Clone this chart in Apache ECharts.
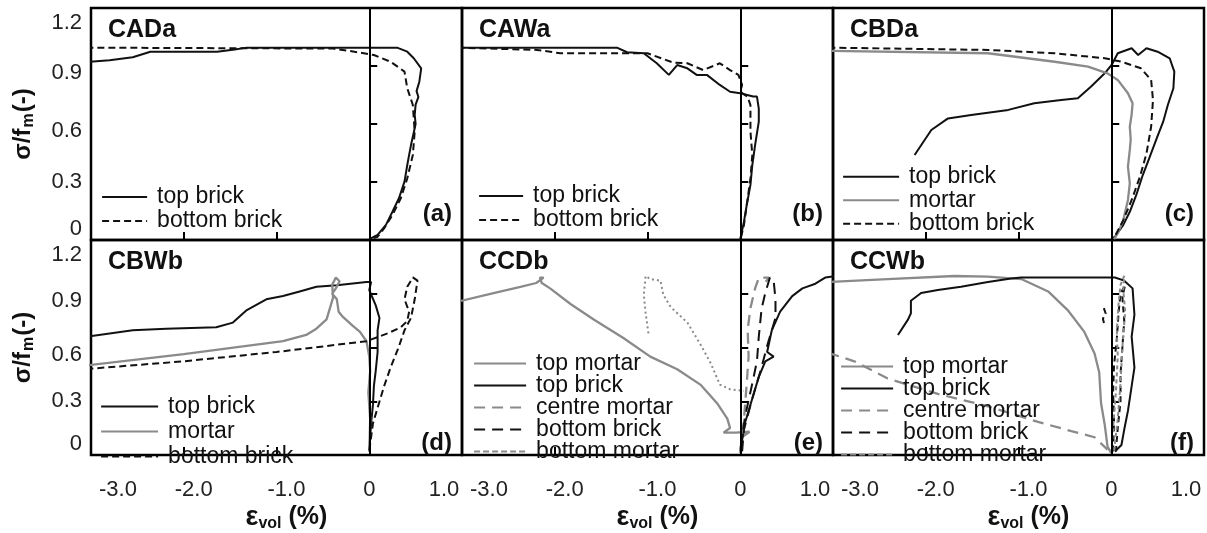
<!DOCTYPE html>
<html>
<head>
<meta charset="utf-8">
<script src="https://cdn.jsdelivr.net/npm/echarts@6/dist/echarts.min.js"></script>
<style>
  html, body { margin: 0; background: #fff; }
  #chart { width: 1207px; height: 533px; }
</style>
</head>
<body>
<div id="chart"></div>
<script>
// panel names and letters
const panelNames = ['CADa', 'CAWa', 'CBDa', 'CBWb', 'CCDb', 'CCWb']
const panelLetters = ['(a)', '(b)', '(c)', '(d)', '(e)', '(f)']

// tick labels
const xTicks = ['-3.0', '-2.0', '-1.0', '0', '1.0']
const yTicks = ['0', '0.3', '0.6', '0.9', '1.2']

// (a) CADa  [eps_vol %, sigma/fm]
const aTopBrick = [[-3.05,0.92],[-2.8,0.93],[-2.55,0.945],[-2.36,0.974],[-1.64,0.974],[-1.45,0.985],[-1.32,0.995],[0.30,0.995],[0.41,0.974],[0.48,0.94],[0.56,0.888],[0.54,0.819],[0.51,0.77],[0.53,0.74],[0.50,0.70],[0.49,0.647],[0.50,0.60],[0.49,0.578],[0.45,0.491],[0.43,0.44],[0.41,0.388],[0.38,0.302],[0.32,0.216],[0.25,0.146],[0.18,0.078],[0.09,0.026],[0.0,0.005]]
const aBottomBrick = [[-3.05,0.995],[-0.39,0.99],[-0.16,0.974],[0.05,0.957],[0.23,0.922],[0.38,0.871],[0.41,0.785],[0.47,0.698],[0.49,0.561],[0.47,0.44],[0.41,0.319],[0.34,0.216],[0.25,0.129],[0.16,0.06],[0.09,0.017],[0.02,0.005]]

// (b) CAWa
const bTopBrick = [[-3.05,0.995],[-1.33,0.995],[-1.22,0.971],[-1.04,0.966],[-0.90,0.914],[-0.77,0.854],[-0.68,0.905],[-0.57,0.888],[-0.47,0.854],[-0.36,0.854],[-0.22,0.802],[-0.11,0.767],[0,0.759],[0.14,0.742],[0.18,0.742],[0.20,0.68],[0.20,0.612],[0.16,0.491],[0.13,0.388],[0.11,0.285],[0.07,0.181],[0.04,0.095],[0.01,0.026],[0,0.005]]
const bBottomBrick = [[-3.05,0.995],[-2.19,0.983],[-1.94,0.966],[-1.0,0.966],[-0.72,0.917],[-0.57,0.914],[-0.40,0.879],[-0.22,0.914],[-0.11,0.879],[-0.02,0.854],[0.02,0.802],[0.0,0.767],[0.08,0.74],[0.11,0.698],[0.11,0.561],[0.13,0.44],[0.11,0.319],[0.07,0.181],[0.04,0.078],[0.01,0.017]]

// (c) CBDa
const cTopBrick = [[-2.12,0.44],[-1.94,0.569],[-1.76,0.629],[-1.51,0.647],[-1.11,0.673],[-0.83,0.707],[-0.54,0.724],[-0.36,0.733],[-0.22,0.793],[-0.07,0.862],[0.01,0.91],[0.07,0.966],[0.22,0.992],[0.29,0.957],[0.38,0.992],[0.50,0.974],[0.63,0.94],[0.68,0.871],[0.67,0.785],[0.61,0.698],[0.56,0.612],[0.49,0.526],[0.41,0.423],[0.34,0.336],[0.27,0.233],[0.20,0.146],[0.13,0.078],[0.04,0.017],[0,0.005]]
const cMortar = [[-3.05,0.978],[-1.33,0.966],[-0.61,0.922],[-0.25,0.897],[-0.04,0.862],[0.07,0.828],[0.18,0.759],[0.23,0.707],[0.22,0.65],[0.20,0.586],[0.21,0.52],[0.20,0.466],[0.18,0.379],[0.20,0.293],[0.18,0.207],[0.13,0.103],[0.07,0.034],[0.03,0.005]]
const cBottomBrick = [[-3.05,0.995],[-1.33,0.983],[-0.61,0.966],[-0.07,0.94],[0.11,0.922],[0.32,0.888],[0.43,0.828],[0.45,0.724],[0.43,0.586],[0.38,0.448],[0.31,0.328],[0.22,0.207],[0.13,0.103],[0.03,0.01]]

// (d) CBWb
const dTopBrick = [[-3.05,0.66],[-2.55,0.696],[-2.19,0.705],[-1.65,0.713],[-1.47,0.739],[-1.32,0.809],[-1.11,0.869],[-0.93,0.887],[-0.75,0.913],[-0.57,0.939],[-0.35,0.947],[-0.03,0.965],[0.02,0.965],[0,0.921],[0.07,0.835],[0.11,0.765],[0.09,0.696],[0.09,0.575],[0.07,0.471],[0.05,0.384],[0.04,0.281],[0.02,0.177],[0,0.021]]
const dMortar = [[-3.05,0.50],[-2.0,0.563],[-0.93,0.635],[-0.68,0.67],[-0.57,0.705],[-0.46,0.757],[-0.39,0.878],[-0.40,0.95],[-0.36,0.99],[-0.32,0.97],[-0.36,0.93],[-0.40,0.90],[-0.35,0.87],[-0.33,0.80],[-0.29,0.774],[-0.18,0.722],[-0.10,0.687],[-0.03,0.635],[0,0.549],[0.01,0.47],[-0.01,0.35],[0.01,0.2],[0,0.02]]
const dBottomBrick = [[-3.05,0.48],[-2.0,0.523],[-1.0,0.575],[-0.03,0.635],[0.20,0.679],[0.34,0.713],[0.41,0.748],[0.43,0.80],[0.38,0.869],[0.41,0.939],[0.47,0.991],[0.52,0.973],[0.49,0.869],[0.45,0.765],[0.38,0.696],[0.31,0.592],[0.23,0.488],[0.16,0.384],[0.09,0.263],[0.04,0.177],[0,0.021]]

// (e) CCDb
const eTopMortar = [[-3.05,0.855],[-2.66,0.904],[-2.37,0.939],[-2.2,0.96],[-2.12,0.99],[-2.16,0.99],[-2.14,0.96],[-2.05,0.93],[-1.83,0.843],[-1.58,0.756],[-1.26,0.653],[-0.97,0.549],[-0.68,0.479],[-0.43,0.393],[-0.25,0.289],[-0.14,0.203],[-0.11,0.151],[-0.18,0.125],[-0.05,0.125],[0.1,0.13],[0.02,0.1],[0,0.01]]
const eTopBrick = [[0,0.021],[0.05,0.177],[0.13,0.315],[0.20,0.436],[0.27,0.523],[0.36,0.549],[0.29,0.575],[0.34,0.696],[0.43,0.80],[0.56,0.887],[0.67,0.930],[0.81,0.956],[0.92,0.991],[1.02,0.999],[1.1,1.0]]
const eCentreMortar = [[0,0.02],[0.04,0.2],[0.07,0.4],[0.09,0.55],[0.08,0.7],[0.11,0.82],[0.16,0.93],[0.20,0.99],[0.31,0.99],[0.25,0.95]]
const eBottomBrick = [[0.02,0.02],[0.04,0.142],[0.13,0.315],[0.22,0.471],[0.29,0.609],[0.38,0.765],[0.38,0.869],[0.36,0.973],[0.32,0.991],[0.27,0.904],[0.23,0.817],[0.20,0.661],[0.18,0.523],[0.13,0.40],[0.05,0.21],[0,0.02]]
const eBottomMortar = [[-0.99,0.679],[-1.02,0.791],[-1.04,0.895],[-1.02,0.999],[-0.97,0.982],[-0.86,0.973],[-0.83,0.895],[-0.75,0.826],[-0.57,0.739],[-0.43,0.618],[-0.32,0.514],[-0.22,0.393],[-0.11,0.367],[0.04,0.358]]

// (f) CCWb
const fTopMortar = [[-3.05,0.965],[-2.41,0.982],[-1.69,0.999],[-1.33,0.996],[-0.97,0.982],[-0.68,0.913],[-0.47,0.809],[-0.29,0.687],[-0.18,0.566],[-0.13,0.462],[-0.11,0.289],[-0.07,0.168],[-0.04,0.047],[0,0.01]]
const fTopBrick = [[-2.30,0.670],[-2.19,0.757],[-2.16,0.791],[-2.16,0.861],[-2.05,0.904],[-1.87,0.921],[-1.62,0.939],[-1.33,0.965],[-1.08,0.985],[-0.97,0.991],[0.04,0.991],[0.14,0.973],[0.23,0.930],[0.25,0.783],[0.22,0.661],[0.25,0.488],[0.22,0.384],[0.18,0.246],[0.14,0.142],[0.11,0.056],[0.04,0.02]]
const fCentreMortar = [[-3.05,0.57],[-2.77,0.523],[-2.41,0.427],[-1.87,0.341],[-1.33,0.272],[-0.79,0.185],[-0.43,0.133],[-0.18,0.099],[-0.04,0.03]]
const fBottomBrick = [[0.02,0.02],[0.03,0.2],[0.02,0.35],[0.03,0.5],[0.06,0.65],[0.08,0.8],[0.1,0.9],[0.15,0.95],[0.12,0.88],[0.14,0.75],[0.12,0.6],[0.1,0.45],[0.1,0.3],[0.07,0.15],[0.05,0.02]]
const fBottomBrickBit = [[-0.08,0.82],[-0.06,0.79],[-0.09,0.76],[-0.07,0.72]]
const fBottomMortar = [[0,0.01],[0.02,0.15],[0.05,0.35],[0.07,0.55],[0.06,0.7],[0.08,0.85],[0.1,0.95],[0.14,1.0],[0.13,0.92],[0.15,0.8],[0.12,0.6],[0.1,0.4],[0.07,0.2],[0.03,0.02]]

const BLACK = '#111'
const GREY = '#8a8a8a'
const FONT = 'Liberation Sans, Arial, sans-serif'
const SHORT = [7, 4]
const LONG = [11, 7]

const cols = [91, 462, 833]
const rows = [{ top: 8, height: 232 }, { top: 240, height: 229 }]

const grids = []
for (let r = 0; r < 2; r++) {
  for (let c = 0; c < 3; c++) {
    grids.push({ left: cols[c], top: rows[r].top, width: 371, height: rows[r].height,
      show: true, borderColor: '#000', borderWidth: 2.5, backgroundColor: 'transparent' })
  }
}

const TICK_FS = 22
const xLabelRich = {
  l: { fontSize: TICK_FS, fontFamily: FONT, color: '#222', padding: [0, 0, 0, 54] },
  m: { fontSize: TICK_FS, fontFamily: FONT, color: '#222', padding: [0, 0, 0, 20] },
  z: { fontSize: TICK_FS, fontFamily: FONT, color: '#222' },
  r: { fontSize: TICK_FS, fontFamily: FONT, color: '#222', padding: [0, 36, 0, 0] }
}
const xStyleKey = ['l', 'm', 'm', 'z', 'r']
const yLabelRich = {
  t: { fontSize: TICK_FS, fontFamily: FONT, color: '#222', padding: [30, 0, 0, 0] },
  a: { fontSize: TICK_FS, fontFamily: FONT, color: '#222', padding: [14, 0, 0, 0] },
  n: { fontSize: TICK_FS, fontFamily: FONT, color: '#222' },
  b: { fontSize: TICK_FS, fontFamily: FONT, color: '#222', padding: [0, 0, 22, 0] }
}
const yStyleKey = ['b', 'n', 'a', 'a', 't']

const xAxes = grids.map((g, i) => {
  const bottomRow = i >= 3
  return {
    gridIndex: i, type: 'value', min: -3, max: 1, interval: 1,
    axisLine: { show: false },
    axisTick: { inside: true, length: 8, lineStyle: { color: '#000', width: 2 } },
    splitLine: { show: false },
    axisLabel: {
      show: bottomRow, margin: 24, showMinLabel: true, showMaxLabel: true,
      formatter: v => {
        const k = Math.round(v) + 3
        return '{' + xStyleKey[k] + '|' + xTicks[k] + '}'
      },
      rich: xLabelRich
    },
    name: bottomRow ? '{e|ε}{s|vol}{p| (%)}' : '',
    nameLocation: 'middle', nameGap: 48,
    nameTextStyle: {
      padding: [0, 0, 0, 20],
      rich: {
        e: { fontSize: 27, fontWeight: 'bold', fontFamily: FONT, color: '#111' },
        s: { fontSize: 16, fontWeight: 'bold', fontFamily: FONT, color: '#111', padding: [13, 0, 0, 0] },
        p: { fontSize: 25, fontWeight: 'bold', fontFamily: FONT, color: '#111' }
      }
    }
  }
})

const yAxes = grids.map((g, i) => {
  const leftCol = i % 3 === 0
  return {
    gridIndex: i, type: 'value', min: 0, max: 1.2, interval: 0.3,
    axisLine: { show: false },
    axisTick: { inside: true, length: 8, lineStyle: { color: '#000', width: 2 } },
    splitLine: { show: false },
    axisLabel: {
      show: leftCol, margin: 9, showMinLabel: true, showMaxLabel: true,
      formatter: v => {
        const k = Math.round(v / 0.3)
        return '{' + yStyleKey[k] + '|' + yTicks[k] + '}'
      },
      rich: yLabelRich
    },
    name: leftCol ? '{p|σ/f}{s|m}{p|(-)}' : '',
    nameLocation: 'middle', nameGap: 54,
    nameTextStyle: {
      rich: {
        p: { fontSize: 24, fontWeight: 'bold', fontFamily: FONT, color: '#111' },
        s: { fontSize: 16, fontWeight: 'bold', fontFamily: FONT, color: '#111', padding: [12, 1, 0, 1] }
      }
    }
  }
})

function ln(name, data, gi, color, dash, width) {
  return {
    type: 'line', name, data, xAxisIndex: gi, yAxisIndex: gi,
    symbol: 'none', color, silent: true, animation: false, clip: true,
    lineStyle: { color, width: width || 2, type: dash || 'solid' }
  }
}

const series = [
  ln('top brick', aTopBrick, 0, BLACK),
  ln('bottom brick', aBottomBrick, 0, BLACK, SHORT),
  ln('top brick', bTopBrick, 1, BLACK),
  ln('bottom brick', bBottomBrick, 1, BLACK, SHORT),
  ln('top brick', cTopBrick, 2, BLACK),
  ln('mortar', cMortar, 2, GREY, null, 2.3),
  ln('bottom brick', cBottomBrick, 2, BLACK, SHORT),
  ln('top brick', dTopBrick, 3, BLACK),
  ln('mortar', dMortar, 3, GREY, null, 2.3),
  ln('bottom brick', dBottomBrick, 3, BLACK, SHORT),
  ln('top mortar', eTopMortar, 4, GREY, null, 2.3),
  ln('top brick', eTopBrick, 4, BLACK),
  ln('centre mortar', eCentreMortar, 4, GREY, LONG, 2.3),
  ln('bottom brick', eBottomBrick, 4, BLACK, LONG),
  ln('bottom mortar', eBottomMortar, 4, GREY, [2, 3], 2),
  ln('top mortar', fTopMortar, 5, GREY, null, 2.3),
  ln('top brick', fTopBrick, 5, BLACK),
  ln('centre mortar', fCentreMortar, 5, GREY, LONG, 2.3),
  ln('bottom brick', fBottomBrick, 5, BLACK, [6, 4]),
  ln('bottom brick', fBottomBrickBit, 5, BLACK, [6, 4]),
  ln('bottom mortar', fBottomMortar, 5, GREY, [4, 3], 2)
]

// vertical line at eps_vol = 0 in every panel
grids.forEach((g, i) => {
  series.push({
    type: 'line', name: 'zero', data: [], xAxisIndex: i, yAxisIndex: i, silent: true, animation: false,
    markLine: { symbol: 'none', silent: true, animation: false, label: { show: false },
      lineStyle: { color: '#000', width: 2, type: 'solid' }, data: [{ xAxis: 0 }] }
  })
})

function leg(items, left, top, w, lh, gap) {
  return {
    left, top, orient: 'vertical', itemWidth: w, itemHeight: 14, itemGap: gap || 0, padding: 0,
    selectedMode: false,
    textStyle: { fontSize: 23, fontFamily: FONT, color: '#111', lineHeight: lh, padding: [0, 0, 0, 5] },
    data: items.map(([name, color, type]) => ({ name, lineStyle: { color, type, width: 2.2 }, itemStyle: { opacity: 0 } }))
  }
}
const legends = [
  leg([['top brick', BLACK, 'solid'], ['bottom brick', BLACK, SHORT]], 101, 185, 45, 24),
  leg([['top brick', BLACK, 'solid'], ['bottom brick', BLACK, SHORT]], 478, 184, 44, 24),
  leg([['top brick', BLACK, 'solid'], ['mortar', GREY, 'solid'], ['bottom brick', BLACK, SHORT]], 842, 165, 56, 23.5),
  leg([['top brick', BLACK, 'solid'], ['mortar', GREY, 'solid'], ['bottom brick', BLACK, SHORT]], 100, 394, 57, 25),
  leg([['top mortar', GREY, 'solid'], ['top brick', BLACK, 'solid'], ['centre mortar', GREY, LONG], ['bottom brick', BLACK, LONG], ['bottom mortar', GREY, [6, 3]]], 473, 352, 52, 22, -1),
  leg([['top mortar', GREY, 'solid'], ['top brick', BLACK, 'solid'], ['centre mortar', GREY, LONG], ['bottom brick', BLACK, LONG], ['bottom mortar', GREY, [6, 3]]], 840, 355, 52, 22, -1)
]

const titles = []
grids.forEach((g, i) => {
  titles.push({ text: panelNames[i], left: g.left + 17, top: g.top + 10, padding: 0,
    textStyle: { fontSize: 25, fontWeight: 'bold', fontFamily: FONT, color: '#111' } })
  titles.push({ text: panelLetters[i], right: 1207 - (g.left + g.width) + 10, top: g.top + g.height - 38, padding: 0,
    textStyle: { fontSize: 24, fontWeight: 'bold', fontFamily: FONT, color: '#111' } })
})

const chart = echarts.init(document.getElementById('chart'))
chart.setOption({
  backgroundColor: '#fff',
  animation: false,
  title: titles,
  legend: legends,
  grid: grids,
  xAxis: xAxes,
  yAxis: yAxes,
  series
})
</script>
</body>
</html>
